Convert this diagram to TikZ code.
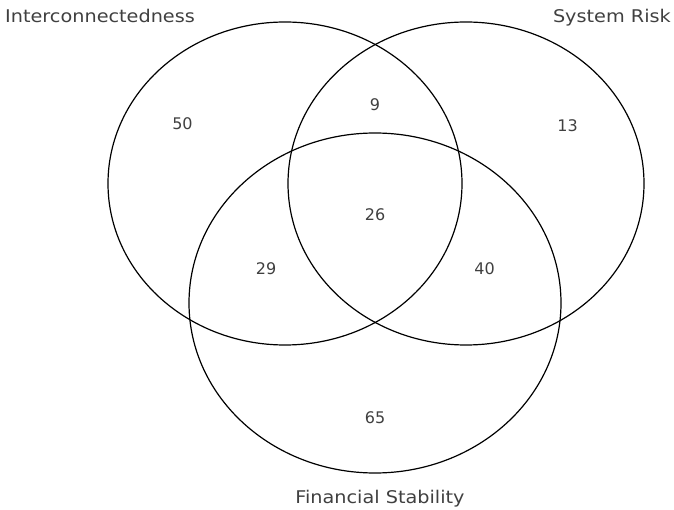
\documentclass[tikz,border=0pt]{standalone}
\usepackage{fontspec}
\setmainfont{DejaVu Sans}[FakeStretch=1.1]
\newfontfamily\numfont{DejaVu Sans}
\begin{document}
\begin{tikzpicture}[
	x=1pt, y=-1pt,
	insieme/.style={line width=1.2pt, black},
	titolo/.style={font=\fontsize{17.5}{20}\selectfont, text=black!75, inner sep=0pt},
	conta/.style={font=\numfont\fontsize{16}{18}\selectfont, text=black!75, inner sep=0pt, anchor=base},
	]
	\useasboundingbox (0,0) rectangle (674,510);
	
	%% centri degli insiemi ------------------------------
	\coordinate (cI) at (285,183.5);
	\coordinate (cS) at (466,183.5);
	\coordinate (cF) at (375,303);
	
	%% cerchi (leggermente schiacciati)
	\draw[insieme] (cI) ellipse [x radius=177, y radius=161.5];
	\draw[insieme] (cS) ellipse [x radius=178, y radius=161.5];
	\draw[insieme] (cF) ellipse [x radius=186, y radius=170];
	
	%% titoli degli insiemi
	\node[titolo, anchor=base west] (tI) at (5,22.7) {Interconnectedness};
	\node[titolo, anchor=base east] (tS) at (671,22.7) {System Risk};
	\node[titolo, anchor=base] (tF) at (380,503) {Financial Stability};
	
	%% numerosita delle regioni
	\node[conta] (nI)   at (182.5,130) {50};
	\node[conta] (nS)   at (567.5,132) {13};
	\node[conta] (nF)   at (375,423)   {65};
	\node[conta] (nIS)  at (375,111)   {9};
	\node[conta] (nIF)  at (266,275)   {29};
	\node[conta] (nSF)  at (484.5,275) {40};
	\node[conta] (nISF) at (375,221)   {26};
	
\end{tikzpicture}
\end{document}
